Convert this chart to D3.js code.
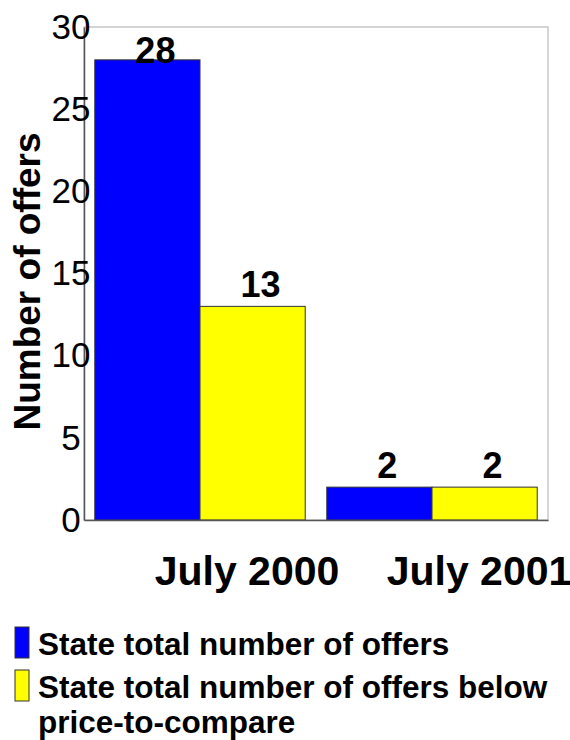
<!DOCTYPE html>
<html>
<head>
<meta charset="utf-8">
<script src="https://cdn.jsdelivr.net/npm/d3@7"></script>
<style>
  body { margin: 0; background: #fff; }
  svg { display: block; font-family: "Liberation Sans", Arial, sans-serif; }
</style>
</head>
<body>
<div id="chart"></div>
<script>
const CATEGORIES = ['July 2000', 'July 2001'];
const SERIES = ['State total number of offers', 'State total number of offers below price-to-compare'];
const TOTAL_OFFERS = [28, 2];
const BELOW_PTC = [13, 2];
const Y_TICKS = [0, 5, 10, 15, 20, 25, 30];
const LEGEND_LINES = [['State total number of offers'], ['State total number of offers below', 'price-to-compare']];

const COLORS = ['#0000ff', '#ffff00'];

const w = 570, h = 740;
const m = { top: 27, right: 22, bottom: 220, left: 84 };
const iw = w - m.left - m.right;
const ih = h - m.top - m.bottom;

const svg = d3.select('#chart').append('svg')
  .attr('width', w).attr('height', h);

const g = svg.append('g').attr('transform', `translate(${m.left},${m.top})`);

const x0 = d3.scaleBand()
  .domain(CATEGORIES)
  .range([0, iw])
  .paddingInner(0.093)
  .paddingOuter(0.0465);

const x1 = d3.scaleBand()
  .domain(d3.range(SERIES.length))
  .range([0, x0.bandwidth()]);

const y = d3.scaleLinear().domain([0, 30]).range([ih, 0]);

// frame: light top/right, darker axis lines
g.append('rect')
  .attr('x', 0).attr('y', 0).attr('width', iw).attr('height', ih)
  .attr('fill', 'none').attr('stroke', '#c8c8c8').attr('stroke-width', 1.5);

const rows = CATEGORIES.map((c, i) => ({ cat: c, values: [TOTAL_OFFERS[i], BELOW_PTC[i]] }));

const groups = g.selectAll('.grp')
  .data(rows)
  .join('g')
  .attr('transform', d => `translate(${x0(d.cat)},0)`);

groups.selectAll('rect')
  .data(d => d.values.map((v, k) => ({ k, v })))
  .join('rect')
  .attr('x', d => x1(d.k))
  .attr('y', d => y(d.v))
  .attr('width', x1.bandwidth())
  .attr('height', d => ih - y(d.v))
  .attr('fill', d => COLORS[d.k])
  .attr('stroke', '#333')
  .attr('stroke-width', 1);

groups.selectAll('.val')
  .data(d => d.values.map((v, k) => ({ k, v })))
  .join('text')
  .attr('class', 'val')
  .attr('x', d => x1(d.k) + x1.bandwidth() / 2 + 8)
  .attr('y', d => Math.max(y(d.v) - 9, y(30) + 36))
  .attr('text-anchor', 'middle')
  .attr('font-size', '36px')
  .attr('font-weight', 'bold')
  .attr('fill', '#000')
  .text(d => d.v);

// y axis
const yAxis = g.append('g')
  .call(d3.axisLeft(y).tickValues(Y_TICKS).tickSize(0).tickPadding(0));
yAxis.select('.domain').attr('stroke', '#555').attr('stroke-width', 1.5);
yAxis.selectAll('text')
  .attr('x', -13)
  .attr('text-anchor', 'middle')
  .attr('font-size', '35px')
  .attr('font-family', '"Liberation Sans", Arial, sans-serif')
  .attr('fill', '#000');

// x axis
const xAxis = g.append('g')
  .attr('transform', `translate(0,${ih})`)
  .call(d3.axisBottom(x0).tickSize(0).tickPadding(0));
xAxis.select('.domain').attr('stroke', '#555').attr('stroke-width', 1.5);
xAxis.selectAll('text')
  .attr('x', 47)
  .attr('y', 65)
  .attr('dy', 0)
  .attr('font-size', '41px')
  .attr('font-weight', 'bold')
  .attr('font-family', '"Liberation Sans", Arial, sans-serif')
  .attr('fill', '#000');

// y title
svg.append('text')
  .attr('transform', `translate(40,${m.top + ih / 2 + 8}) rotate(-90)`)
  .attr('text-anchor', 'middle')
  .attr('font-size', '37px')
  .attr('font-weight', 'bold')
  .text('Number of offers');

// legend
const legend = svg.append('g').attr('transform', 'translate(15,627)');
const lg = legend.selectAll('g')
  .data(SERIES)
  .join('g')
  .attr('transform', (d, i) => `translate(0,${i * 43})`);

lg.append('rect')
  .attr('width', 14).attr('height', 31)
  .attr('fill', (d, i) => COLORS[i])
  .attr('stroke', '#333').attr('stroke-width', 1);

lg.append('text')
  .attr('x', 23)
  .attr('y', 28)
  .attr('font-size', '31.5px')
  .attr('font-weight', 'bold')
  .selectAll('tspan')
  .data((d, i) => LEGEND_LINES[i])
  .join('tspan')
  .attr('x', 23)
  .attr('dy', (d, j) => j === 0 ? 0 : 35)
  .text(d => d);
</script>
</body>
</html>
